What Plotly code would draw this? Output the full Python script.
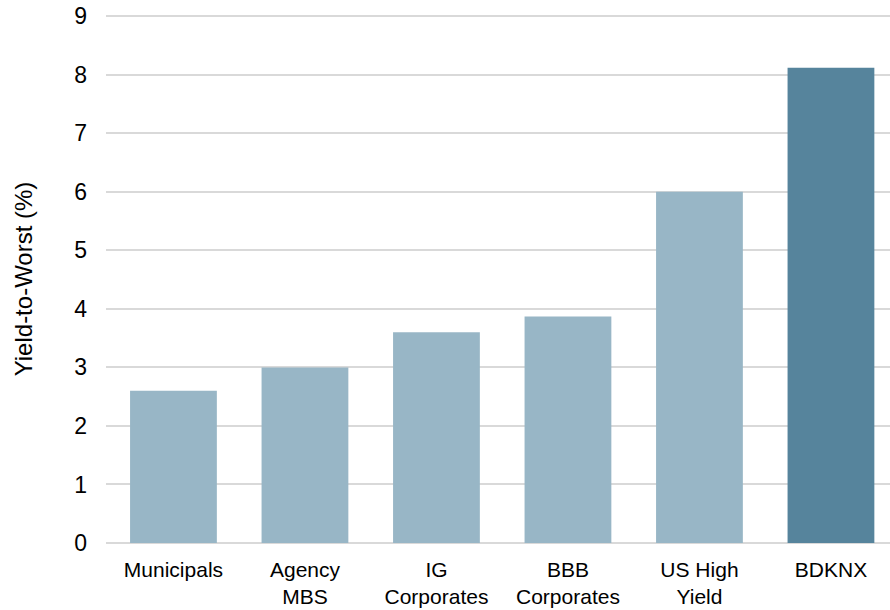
import plotly.graph_objects as go

categories = ["Municipals", "Agency<br>MBS", "IG<br>Corporates", "BBB<br>Corporates", "US High<br>Yield", "BDKNX"]
values = [2.6, 3.0, 3.6, 3.87, 6.0, 8.12]
colors = ["#98B6C6", "#98B6C6", "#98B6C6", "#98B6C6", "#98B6C6", "#56849C"]
y_ticks = [0, 1, 2, 3, 4, 5, 6, 7, 8, 9]

fig = go.Figure(go.Bar(x=categories, y=values, marker=dict(color=colors, line=dict(width=0)), width=0.66))

fig.update_layout(
    width=890, height=610,
    margin=dict(l=106, r=0, t=15, b=67),
    paper_bgcolor="white", plot_bgcolor="white",
    font=dict(family="Liberation Sans, Arial, sans-serif", size=21, color="#000000"),
    showlegend=False,
)
fig.update_xaxes(range=[-0.513, 5.449], showgrid=False, showline=False, ticks="", tickfont=dict(size=21),
                 ticklabelstandoff=12, automargin=False)
fig.update_yaxes(range=[0, 9.02], tickvals=y_ticks, showgrid=True, gridcolor="#D9D9D9", gridwidth=1.5,
                 zeroline=True, zerolinecolor="#D9D9D9", zerolinewidth=1.5,
                 title=dict(text="Yield-to-Worst (%)", font=dict(size=24), standoff=34),
                 ticks="", ticklabelstandoff=18, tickfont=dict(size=23), ticklabeloverflow="allow",
                 automargin=False)

fig.write_html("out.html", config={"displayModeBar": False},
               post_script="document.body.style.margin='0';document.body.style.overflow='hidden';")
